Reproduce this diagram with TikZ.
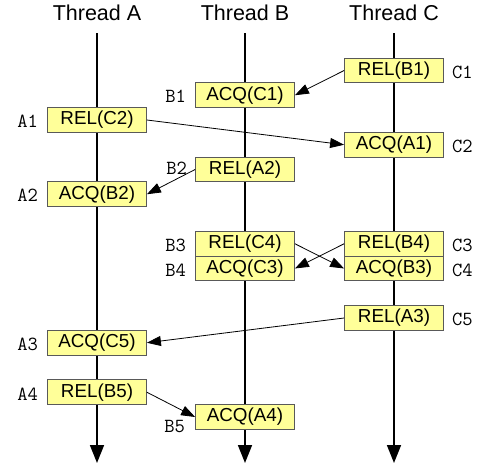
\documentclass[tikz,border=0pt]{standalone}
\usepackage{fontspec}
\setmainfont{Liberation Sans}
\usetikzlibrary{positioning,arrows.meta}
\definecolor{opfill}{HTML}{FFFF99}
\begin{document}
\begin{tikzpicture}[x=1pt,y=-1pt]
  \useasboundingbox (0,0) rectangle (479,465);
  \tikzstyle{title} = [inner sep=0pt, minimum height=40pt, font=\fontsize{21.5}{24}\selectfont]
  \tikzstyle{thread} = [line width=1.6pt, -{Triangle[length=18pt,width=14pt]}]
  \tikzstyle{op} = [draw=black!65, fill=opfill, line width=0.8pt, minimum width=99pt,
    minimum height=24.75pt, inner sep=0pt, font=\fontsize{18.8}{20}\selectfont]
  \tikzstyle{lbl} = [inner sep=0pt, font=\ttfamily\fontsize{20}{22}\selectfont]
  \tikzstyle{msg} = [line width=0.8pt, -{Triangle[length=14pt,width=10pt]}]

  % threads
  \foreach \t/\x in {A/97,B/245,C/394}{
    \node[title] (t\t) at (\x,13) {Thread \t};
    \coordinate (e\t) at (\x,463);
    \draw[thread] (t\t) -- (e\t);
  }

  % operations
  \node[op] (c1) at (394,70.5) {REL(B1)};
  \node[op] (b1) at (245,95.25) {ACQ(C1)};
  \node[op] (a1) at (97,120) {REL(C2)};
  \node[op] (c2) at (394,144.75) {ACQ(A1)};
  \node[op] (b2) at (245,169.5) {REL(A2)};
  \node[op] (a2) at (97,194.25) {ACQ(B2)};
  \node[op] (b3) at (245,243.75) {REL(C4)};
  \node[op] (b4) at (245,268.5) {ACQ(C3)};
  \node[op] (c3) at (394,243.75) {REL(B4)};
  \node[op] (c4) at (394,268.5) {ACQ(B3)};
  \node[op] (c5) at (394,318) {REL(A3)};
  \node[op] (a3) at (97,342.75) {ACQ(C5)};
  \node[op] (a4) at (97,392.25) {REL(B5)};
  \node[op] (b5) at (245,417) {ACQ(A4)};

  % labels
  \foreach \n/\s in {a1/A1,a2/A2,a3/A3,a4/A4,b1/B1,b3/B3,b4/B4}
    \node[lbl, left=9pt of \n, yshift=-1.5pt] (l\n) {\s};
  \foreach \n/\s in {c1/C1,c2/C2,c3/C3,c4/C4,c5/C5}
    \node[lbl, right=8pt of \n, yshift=-1.5pt] (l\n) {\s};
  \node[lbl, left=8pt of b2, yshift=1.5pt] (lb2) {B2};
  \node[lbl, left=10pt of b5, yshift=-10pt] (lb5) {B5};

  % messages
  \path[msg]
  (c1.west) edge (b1.east)
  (a1.east) edge (c2.west)
  (b2.west) edge (a2.east)
  (b3.east) edge (c4.west)
  (c3.west) edge (b4.east)
  (c5.west) edge (a3.east)
  (a4.east) edge (b5.west);
\end{tikzpicture}
\end{document}
